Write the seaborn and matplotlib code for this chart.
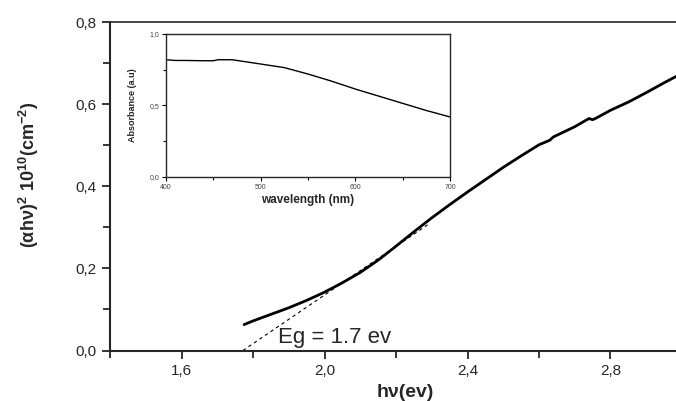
import numpy as np
import pandas as pd
import matplotlib
matplotlib.use("Agg")
import matplotlib.pyplot as plt
import seaborn as sns
from matplotlib.ticker import MultipleLocator, FuncFormatter

# Main curve: (alpha h nu)^2 vs photon energy
hv = [1.775, 1.80, 1.85, 1.90, 1.95, 2.00, 2.05, 2.10, 2.15, 2.20, 2.25, 2.30,
      2.35, 2.40, 2.45, 2.50, 2.55, 2.60, 2.63, 2.64, 2.70, 2.74, 2.75, 2.76,
      2.80, 2.85, 2.90, 2.95, 3.00]
ahv2 = [0.063, 0.072, 0.088, 0.104, 0.122, 0.142, 0.165, 0.190, 0.220, 0.254,
        0.289, 0.323, 0.355, 0.386, 0.416, 0.446, 0.474, 0.501, 0.512, 0.520,
        0.545, 0.565, 0.562, 0.566, 0.585, 0.605, 0.628, 0.652, 0.675]

# Linear extrapolation (Tauc fit)
fit_x = [1.772, 2.295]
fit_y = [0.0, 0.31]

# Inset: absorbance spectrum
wavelength = [400, 410, 420, 440, 450, 455, 470, 480, 500, 525, 550, 575, 600,
              625, 650, 675, 700]
absorbance = [0.82, 0.815, 0.815, 0.813, 0.813, 0.82, 0.82, 0.81, 0.79, 0.765,
              0.72, 0.67, 0.615, 0.565, 0.515, 0.465, 0.42]

main_xticks = [1.6, 2.0, 2.4, 2.8]
main_yticks = [0.0, 0.2, 0.4, 0.6, 0.8]
inset_xticks = [400, 500, 600, 700]
inset_yticks = [0.0, 0.5, 1.0]

sns.set_style("ticks")
plt.rcParams['font.family'] = ['Liberation Sans', 'DejaVu Sans']
plt.rcParams['mathtext.fontset'] = 'custom'
plt.rcParams['mathtext.rm'] = 'Liberation Sans'
plt.rcParams['mathtext.bf'] = 'Liberation Sans:bold'

comma = FuncFormatter(lambda v, p: f"{v:.1f}".replace('.', ','))
intfmt = FuncFormatter(lambda v, p: f"{v:.0f}")

fig = plt.figure(figsize=(6.76, 4.01), dpi=100)
ax = fig.add_axes([110/676, 1 - 350.5/401, (682-110)/676, (350.5-22)/401])

df = pd.DataFrame({"hv": hv, "y": ahv2})
sns.lineplot(data=df, x="hv", y="y", ax=ax, color="black", lw=2.0)
ax.plot(fit_x, fit_y, color="black", lw=0.8, ls=(0, (3, 3)))

ax.set_xlim(1.4, 3.0)
ax.set_ylim(0.0, 0.8)
ax.set_xticks(main_xticks)
ax.set_yticks(main_yticks)
ax.xaxis.set_minor_locator(MultipleLocator(0.2))
ax.yaxis.set_minor_locator(MultipleLocator(0.1))
ax.xaxis.set_major_formatter(comma)
ax.yaxis.set_major_formatter(comma)
ax.tick_params(which='both', direction='out', width=1.3, labelsize=11)
ax.tick_params(which='major', length=6)
ax.tick_params(which='minor', length=5)
for s in ax.spines.values():
    s.set_linewidth(1.5)
ax.spines['right'].set_visible(False)
ax.spines['top'].set_visible(True)
ax.spines['top'].set_linewidth(1.2)

ax.set_xlabel("h\u03bd(ev)", fontsize=14, fontweight='bold')
ax.xaxis.set_label_coords(0.516, -0.103)
ax.set_ylabel(r"$\mathbf{(\alpha h\nu)^{2}\ 10^{10}(cm^{-2})}$", fontsize=13)
ax.yaxis.set_label_coords(-0.12, 0.534)
ax.text(1.87, 0.018, "Eg = 1.7 ev", fontsize=16)

# Inset
ins = fig.add_axes([166/676, 1 - 177/401, (450-166)/676, (177-34)/401])
dfi = pd.DataFrame({"wl": wavelength, "ab": absorbance})
sns.lineplot(data=dfi, x="wl", y="ab", ax=ins, color="black", lw=1.0)
ins.set_xlim(400, 700)
ins.set_ylim(0.0, 1.0)
ins.set_xticks(inset_xticks)
ins.set_yticks(inset_yticks)
ins.xaxis.set_minor_locator(MultipleLocator(50))
ins.yaxis.set_minor_locator(MultipleLocator(0.25))
ins.xaxis.set_major_formatter(intfmt)
ins.yaxis.set_major_formatter(comma)
ins.tick_params(which='both', direction='out', width=0.8, labelsize=5, pad=2,
                colors='black', labelcolor='#444444')
ins.tick_params(which='major', length=3)
ins.tick_params(which='minor', length=2)
for s in ins.spines.values():
    s.set_linewidth(1.0)
ins.set_xlabel("wavelength (nm)", fontsize=8.5, fontweight='bold', labelpad=2)
ins.set_ylabel("Absorbance (a.u)", fontsize=6.5, fontweight='bold', labelpad=9)

fig.savefig("out.png", dpi=100)
